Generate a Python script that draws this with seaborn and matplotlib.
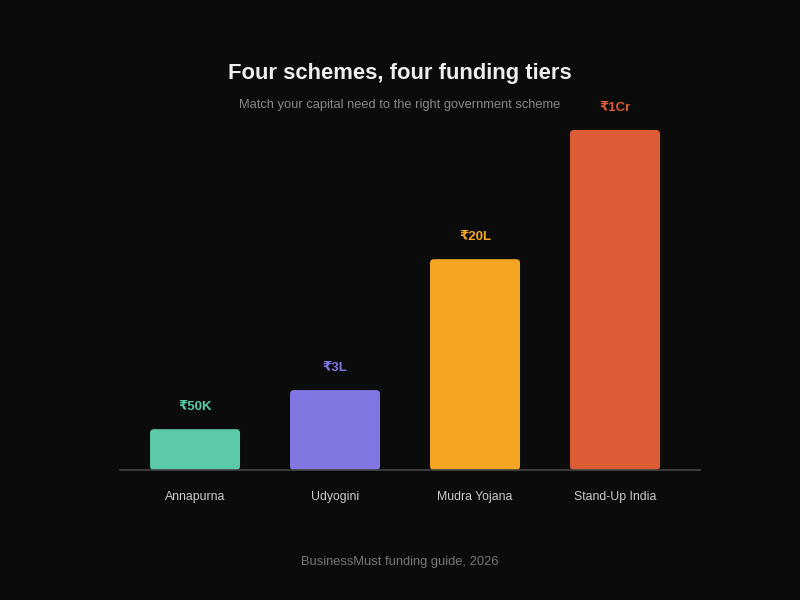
import matplotlib
matplotlib.use('Agg')
import matplotlib.pyplot as plt
import seaborn as sns
import pandas as pd
from matplotlib.patches import FancyBboxPatch

# scheme data (bar height = relative funding tier, 100 = largest)
schemes = ['Annapurna', 'Udyogini', 'Mudra Yojana', 'Stand-Up India']
tier_height = [12, 23.5, 62, 100]
amount_labels = ['₹50K', '₹3L', '₹20L', '₹1Cr']
colors = ['#5ccaa8', '#8177e2', '#f4a623', '#dc5c35']

bg = '#0b0b0b'
sns.set_theme(style='dark')
plt.rcParams['font.family'] = ['Liberation Sans', 'DejaVu Sans']

df = pd.DataFrame({'scheme': schemes, 'height': tier_height})

fig = plt.figure(figsize=(8, 6), dpi=100, facecolor=bg)
ax = fig.add_axes([0.15, 0.2167, 0.725, 0.5667 * 1.1])
ax.set_facecolor(bg)

sns.barplot(data=df, x='scheme', y='height', hue='scheme', palette=colors,
            width=0.643, legend=False, ax=ax)

ax.set_xlim(-0.536, 3.607)
ax.set_ylim(0, 110)

# swap square bars for rounded ones
px_x = 1 / 140.0
px_y = 1 / 3.4
for patch, col in zip(list(ax.patches), colors):
    x, y = patch.get_x(), patch.get_y()
    w, h = patch.get_width(), patch.get_height()
    patch.remove()
    rb = FancyBboxPatch((x, y), w, h,
                        boxstyle=f'round,pad=0,rounding_size={4 * px_x}',
                        mutation_aspect=px_y / px_x,
                        facecolor=col, edgecolor='none', zorder=2)
    ax.add_patch(rb)

for i, (h, lab, col) in enumerate(zip(tier_height, amount_labels, colors)):
    ax.annotate(lab, (i, h), xytext=(0, 16), textcoords='offset points',
                ha='center', va='center', color=col, fontsize=9.5,
                fontweight='bold', annotation_clip=False)

for s in ['top', 'right', 'left']:
    ax.spines[s].set_visible(False)
ax.spines['bottom'].set_color('#444444')
ax.spines['bottom'].set_linewidth(1.2)
ax.set_yticks([])
ax.set_xlabel('')
ax.set_ylabel('')
ax.grid(False)
ax.tick_params(axis='x', length=0, pad=15, labelsize=8.8, labelcolor='#cccccc')

fig.text(0.5, 1 - 73 / 600, 'Four schemes, four funding tiers', ha='center',
         va='center', fontsize=15.8, fontweight='bold', color='#eeeeee')
fig.text(0.5, 1 - 105 / 600, 'Match your capital need to the right government scheme',
         ha='center', va='center', fontsize=9.3, color='#888888')
fig.text(0.5, 1 - 562 / 600, 'BusinessMust funding guide, 2026', ha='center',
         va='center', fontsize=9.3, color='#777777')

fig.savefig('out.png', dpi=100, facecolor=bg)
